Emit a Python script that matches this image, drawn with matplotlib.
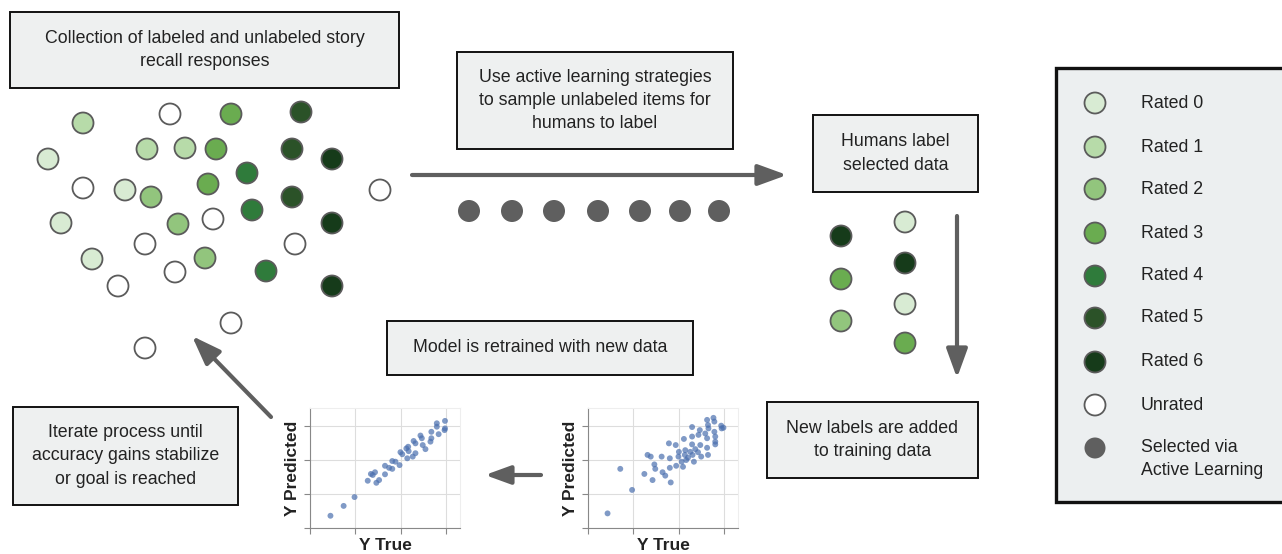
import numpy as np
import matplotlib.pyplot as plt
from matplotlib.patches import Circle, Rectangle

plt.rcParams['font.family'] = ['Liberation Sans', 'DejaVu Sans']

# colours for the ratings 0..6, -1 = unrated
rating_colors = ['#d8ebd3', '#b7dba9', '#92c57d', '#6aac50', '#2f7b3b', '#2b5228', '#163b1a']
unrated_color = '#ffffff'
selected_color = '#5f5f5f'
edge_color = '#5b5b5b'

# pool of responses (pixel positions in the diagram, rating, -1 = unrated)
pool_x = [83, 170, 231, 301, 48, 147, 185, 216, 292, 332, 83, 125, 151, 208, 247, 380,
          292, 61, 178, 213, 252, 332, 145, 295, 92, 205, 175, 266, 118, 332, 231, 145]
pool_y = [123, 114, 114, 112, 159, 149, 148, 149, 149, 159, 188, 190, 197, 184, 173, 190,
          197, 223, 224, 219, 210, 223, 244, 244, 259, 258, 272, 271, 286, 286, 323, 348]
pool_rating = [1, -1, 3, 5, 0, 1, 1, 3, 5, 6, -1, 0, 2, 3, 4, -1,
               5, 0, 2, -1, 4, 6, -1, -1, 0, 2, -1, 4, -1, 6, -1, -1]

# items picked by active learning
selected_x = [469, 512, 554, 598, 640, 680, 719]
selected_y = [211] * 7

# items after humans labelled them
labeled_x = [841, 841, 841, 905, 905, 905, 905]
labeled_y = [236, 279, 321, 222, 263, 304, 343]
labeled_rating = [6, 3, 2, 0, 6, 0, 3]

legend_labels = ['Rated 0', 'Rated 1', 'Rated 2', 'Rated 3', 'Rated 4', 'Rated 5', 'Rated 6',
                 'Unrated', 'Selected via\nActive Learning']
legend_y = [103, 147, 189, 233, 276, 318, 362, 405, 448]

# model predictions before / after retraining
before_true = [0.43, 0.71, 0.97, 1.24, 1.31, 1.38, 1.46, 1.48, 1.42, 1.62, 1.64, 1.70, 1.78, 1.80,
               1.80, 1.82, 1.93, 1.94, 1.99, 2.00, 2.06, 2.09, 2.11, 2.13, 2.14, 2.16, 2.20, 2.25,
               2.29, 2.29, 2.29, 2.30, 2.33, 2.36, 2.42, 2.43, 2.46, 2.47, 2.49, 2.58, 2.62, 2.62,
               2.64, 2.62, 2.64, 2.65, 2.76, 2.78, 2.78, 2.80, 2.80, 2.80, 2.93, 2.94, 2.98]
before_pred = [0.43, 1.74, 1.12, 1.59, 2.15, 2.10, 1.87, 1.74, 1.41, 2.10, 1.64, 1.54, 2.49, 2.05,
               1.77, 1.34, 2.44, 1.83, 2.10, 2.24, 1.95, 1.80, 2.62, 2.15, 2.29, 2.00, 2.07, 2.24,
               2.97, 2.69, 2.46, 2.15, 1.95, 2.32, 2.23, 2.74, 2.88, 2.44, 2.10, 2.78, 2.64, 2.36,
               2.15, 3.18, 3.03, 2.93, 3.24, 3.13, 2.83, 2.69, 2.54, 2.46, 3.01, 2.93, 2.95]
after_true = [0.45, 0.74, 0.98, 1.27, 1.34, 1.43, 1.46, 1.52, 1.65, 1.65, 1.81, 1.81, 1.97, 1.99,
              2.12, 2.14, 2.16, 2.17, 2.32, 2.32, 2.46, 2.48, 2.54, 2.67, 2.67, 2.79, 2.79, 2.83,
              2.97, 2.97, 2.96, 2.28, 2.43, 2.03, 1.88, 2.26, 2.65, 1.74, 1.38]
after_pred = [0.36, 0.65, 0.91, 1.39, 1.59, 1.64, 1.33, 1.41, 1.83, 1.58, 1.97, 1.74, 1.85, 2.23,
              2.34, 2.05, 2.39, 2.26, 2.20, 2.49, 2.64, 2.44, 2.32, 2.83, 2.64, 3.08, 2.98, 2.76,
              3.15, 2.93, 2.88, 2.56, 2.72, 2.17, 1.95, 2.10, 2.54, 1.77, 1.56]

W, H = 1282, 554
fig = plt.figure(figsize=(W / 100, H / 100), dpi=100)
ax = fig.add_axes([0, 0, 1, 1])
ax.set_xlim(0, W)
ax.set_ylim(H, 0)
ax.axis('off')

R = 10.5
FS = 12.8


def dot(x, y, rating):
    fc = unrated_color if rating < 0 else rating_colors[rating]
    ax.add_patch(Circle((x, y), R, facecolor=fc, edgecolor=edge_color, lw=1.3, zorder=3))


def box(x0, y0, x1, y1, text):
    ax.add_patch(Rectangle((x0, y0), x1 - x0, y1 - y0, facecolor='#eef0f0',
                           edgecolor='#111111', lw=1.4, zorder=2))
    ax.text((x0 + x1) / 2, (y0 + y1) / 2, text, ha='center', va='center',
            fontsize=FS, color='#222222', linespacing=1.5, zorder=4)


def arrow(x0, y0, x1, y1, scale=16):
    ax.annotate('', xy=(x1, y1), xytext=(x0, y0),
                arrowprops=dict(arrowstyle='-|>,head_length=1.1,head_width=0.4',
                                lw=3, color=selected_color, mutation_scale=scale,
                                shrinkA=0, shrinkB=0))


for x, y, r in zip(pool_x, pool_y, pool_rating):
    dot(x, y, r)
for x, y in zip(selected_x, selected_y):
    ax.add_patch(Circle((x, y), 11, facecolor=selected_color, edgecolor='none', zorder=3))
for x, y, r in zip(labeled_x, labeled_y, labeled_rating):
    dot(x, y, r)

box(10, 12, 399, 88, 'Collection of labeled and unlabeled story\nrecall responses')
box(457, 52, 733, 149, 'Use active learning strategies\nto sample unlabeled items for\nhumans to label')
box(813, 115, 978, 192, 'Humans label\nselected data')
box(387, 321, 693, 375, 'Model is retrained with new data')
box(13, 407, 238, 505, 'Iterate process until\naccuracy gains stabilize\nor goal is reached')
box(767, 402, 978, 478, 'New labels are added\nto training data')

arrow(412, 175, 787, 175)
arrow(957, 216, 957, 378)
arrow(541, 475, 485, 475, scale=14)
arrow(271, 417, 192, 336)

# legend
ax.add_patch(Rectangle((1056, 68), 240, 434, facecolor='#eceff0', edgecolor='#111111',
                       lw=2.4, zorder=2))
for i, (lab, y) in enumerate(zip(legend_labels, legend_y)):
    if i < 7:
        dot(1095, y, i)
    elif i == 7:
        dot(1095, y, -1)
    else:
        ax.add_patch(Circle((1095, y), R, facecolor=selected_color, edgecolor='none', zorder=3))
    ty = y + 11 if '\n' in lab else y
    ax.text(1141, ty, lab, ha='left', va='center', fontsize=FS, color='#222222',
            linespacing=1.5, zorder=4)

# the two prediction plots
for left, xs, ys in [(310, after_true, after_pred), (588, before_true, before_pred)]:
    sax = fig.add_axes([left / W, (H - 528) / H, 150 / W, 120 / H])
    sax.scatter(xs, ys, s=18, color='#4a6fae', alpha=0.7, edgecolors='none', zorder=3)
    sax.set_xlim(0, 3.3)
    sax.set_ylim(0, 3.53)
    sax.set_xticks([0, 1, 2, 3])
    sax.set_yticks([0, 1, 2, 3])
    sax.set_xticklabels([])
    sax.set_yticklabels([])
    sax.grid(True, color='#dddddd', lw=0.8)
    sax.set_axisbelow(True)
    sax.tick_params(length=4, color='#888888', direction='out')
    for s in ['left', 'bottom']:
        sax.spines[s].set_color('#888888')
    for s in ['top', 'right']:
        sax.spines[s].set_color('#eeeeee')
    sax.set_xlabel('Y True', fontsize=12.5, fontweight='bold', color='#222222', labelpad=0)
    sax.set_ylabel('Y Predicted', fontsize=12.5, fontweight='bold', color='#222222', labelpad=0)

fig.savefig('out.png', dpi=100)
